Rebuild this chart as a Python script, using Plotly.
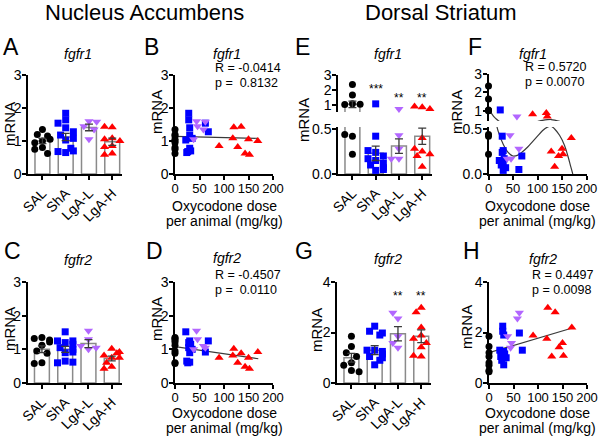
import plotly.graph_objects as go

W, H = 600, 436
FONT = "Liberation Sans, Arial, sans-serif"

GROUPS = ["SAL", "ShA", "LgA-L", "LgA-H"]
COLORS = ["#000000", "#0000ff", "#b266ff", "#ff0000"]
SYMBOLS = ["circle", "square", "triangle-down", "triangle-up"]
SIZES = [7, 7, 8, 8]

# oxycodone dose per animal (mg/kg); saline animals sit at 0
DOSE_SHA = [22, 24, 26, 28, 28, 30, 30, 30, 32, 35, 62, 68]
DOSE_LGAL = [38, 44, 46, 58, 62]
DOSE_LGAH = [90, 118, 120, 128, 135, 143, 150, 152, 169]

# Nucleus accumbens, fgfr1
NAC_FGFR1_SAL = [1.35, 1.2, 1.15, 1.05, 1.0, 0.95, 0.8, 0.75, 0.62]
NAC_FGFR1_SHA = [1.03, 0.65, 0.68, 1.84, 1.64, 1.4, 1.18, 0.78, 0.7, 1.08, 1.54, 1.28]
NAC_FGFR1_LGAL = [1.05, 1.6, 1.45, 1.35, 1.58]
NAC_FGFR1_LGAH = [0.85, 1.08, 1.42, 0.82, 1.43, 0.62, 1.05, 0.58, 1.0]
NAC_FGFR1_MEAN = [1.0, 1.12, 1.41, 0.98]
NAC_FGFR1_SEM = [0.08, 0.11, 0.1, 0.11]

# Nucleus accumbens, fgfr2
NAC_FGFR2_SAL = [1.35, 1.32, 1.28, 1.22, 1.12, 0.95, 0.88, 0.6, 0.58]
NAC_FGFR2_SHA = [1.52, 0.65, 0.6, 1.2, 1.05, 1.25, 0.9, 0.62, 1.15, 1.0, 0.92, 1.25]
NAC_FGFR2_LGAL = [1.0, 1.55, 1.3, 1.1, 1.05]
NAC_FGFR2_LGAH = [0.75, 0.82, 1.02, 0.6, 0.88, 0.48, 0.75, 0.42, 0.92]
NAC_FGFR2_MEAN = [1.0, 1.0, 1.17, 0.73]
NAC_FGFR2_SEM = [0.1, 0.09, 0.12, 0.07]

# Dorsal striatum, fgfr1
DS_FGFR1_SAL = [2.35, 1.65, 1.05, 1.0, 1.02, 0.42, 0.44, 0.22]
DS_FGFR1_SHA = [0.15, 1.05, 0.1, 0.42, 0.24, 0.26, 0.12, 0.04, 0.17, 0.07, 0.05, 0.2]
DS_FGFR1_LGAL = [0.17, 0.43, 0.17, 0.7, 0.28]
DS_FGFR1_LGAH = [0.82, 0.88, 0.7, 0.25, 0.08, 0.2, 0.28, 0.22, 0.4]
DS_FGFR1_MEAN = [1.02, 0.23, 0.31, 0.42]
DS_FGFR1_SEM = [0.22, 0.08, 0.08, 0.09]
DS_FGFR1_STARS = ["", "***", "**", "**"]
DS_FGFR1_STAR_Y = [None, 2.05, 1.45, 1.45]

# Dorsal striatum, fgfr2
DS_FGFR2_SAL = [1.85, 1.45, 1.2, 1.05, 0.8, 0.7, 0.5, 0.45]
DS_FGFR2_SHA = [1.3, 1.05, 0.9, 2.25, 2.05, 1.9, 1.25, 0.72, 1.15, 1.0, 1.98, 1.3]
DS_FGFR2_LGAL = [1.85, 1.4, 1.58, 2.55, 2.78]
DS_FGFR2_LGAH = [1.88, 1.75, 2.98, 1.05, 2.8, 1.42, 1.58, 1.08, 2.2]
DS_FGFR2_MEAN = [1.0, 1.3, 1.95, 1.85]
DS_FGFR2_SEM = [0.17, 0.18, 0.28, 0.25]
DS_FGFR2_STARS = ["", "", "**", "**"]
DS_FGFR2_STAR_Y = [None, None, 3.45, 3.45]

# fitted lines
FIT_DOSE = [0, 170]
FIT_NAC_FGFR1 = [1.14, 1.08]
FIT_NAC_FGFR2 = [1.08, 0.72]
FIT_DS_FGFR2 = [1.2, 2.18]
CURVE_DOSE = [0, 5, 10, 15, 20, 30, 40, 50, 60, 70, 80, 90, 100, 110, 120, 128,
              135, 145, 155, 162, 168, 172]
CURVE_DS_FGFR1 = [1.08, 0.9, 0.72, 0.58, 0.47, 0.33, 0.24, 0.2, 0.21, 0.25, 0.3,
                  0.36, 0.42, 0.48, 0.52, 0.53, 0.5, 0.43, 0.32, 0.2, 0.08, 0.0]

STATS = {
    "B": ("R = -0.0414", "p =\u00a0\u00a00.8132"),
    "D": ("R = -0.4507", "p =\u00a0\u00a00.0110"),
    "F": ("R = 0.5720", "p = 0.0070"),
    "H": ("R = 0.4497", "p = 0.0098"),
}

AX = dict(showline=True, linecolor="black", linewidth=1.5, ticks="outside",
          ticklen=4, tickwidth=1.5, tickcolor="black", showgrid=False,
          zeroline=False, fixedrange=True, automargin=False,
          tickfont=dict(family=FONT, size=14, color="black"))

layout = {}
data = []
annotations = []


def fx(a, b):
    return [a / W, b / W]


def fy(top, bottom):
    return [1 - bottom / H, 1 - top / H]


def axis(kind, n, dom, anchor, **kw):
    key = kind + ("" if n == 1 else str(n))
    layout[key] = dict(AX, domain=dom, anchor=anchor, **kw)


def yaxis(n, dom, anchor, **kw):
    axis("yaxis", n, dom, anchor, ticklabelstandoff=-2, **kw)


def text(x, y, s, size, xanchor="center", angle=0, **kw):
    annotations.append(dict(x=x / W, y=1 - y / H, xref="paper", yref="paper",
                            text=s, showarrow=False, xanchor=xanchor,
                            yanchor="middle", textangle=angle,
                            font=dict(family=FONT, size=size, color="black"), **kw))


OFFSETS = [0, -0.22, 0.22, -0.11, 0.11, -0.33, 0.33]


def swarm(vals, to_px, step=23.3, gap=6.5):
    placed = []
    for v in vals:
        py = to_px(v)
        for off in OFFSETS:
            if all((off - o) ** 2 * step ** 2 + (py - q) ** 2 >= gap ** 2 for o, q in placed):
                break
        placed.append((off, py))
    return [o for o, _ in placed]


def points(xs, ys, g, xa, ya):
    data.append(go.Scatter(
        x=xs, y=ys, xaxis=xa, yaxis=ya, mode="markers", cliponaxis=False,
        marker=dict(symbol=SYMBOLS[g], color=COLORS[g], size=SIZES[g], line=dict(width=0))))


def bars(means, xa, ya):
    data.append(go.Bar(x=list(range(4)), y=means, xaxis=xa, yaxis=ya, width=0.64,
                       marker=dict(color="white", line=dict(color="#8a8a8a", width=1.5))))


def errbars(idx, means, sems, xa, ya):
    if not idx:
        return
    data.append(go.Scatter(
        x=idx, y=[means[i] for i in idx], xaxis=xa, yaxis=ya, mode="markers",
        cliponaxis=False, marker=dict(size=2, opacity=0),
        error_y=dict(type="data", array=[sems[i] for i in idx], color="#3a3a3a",
                     thickness=1.3, width=4)))


def bar_xaxis(n, x0, anchor):
    axis("xaxis", n, fx(x0, x0 + 94), anchor, range=[-0.62, 3.42],
         tickvals=[0, 1, 2, 3], ticktext=GROUPS, tickangle=-45)


def dose_xaxis(n, x0, anchor):
    axis("xaxis", n, fx(x0, x0 + 98), anchor, range=[0, 200],
         tickvals=[0, 50, 100, 150, 200], tickangle=0, ticklabelstandoff=-2,
         tickfont=dict(family=FONT, size=13, color="black"))


def bar_panel(n_x, n_y, x0, top, bottom, ymax, dtick, groups, means, sems,
              stars=None, star_y=None):
    xa, ya = "x" + str(n_x), "y" + str(n_y)
    bar_xaxis(n_x, x0, ya)
    yaxis(n_y, fy(top, bottom), xa, range=[0, ymax], dtick=dtick)
    bars(means, xa, ya)
    ppu = (bottom - top) / ymax
    for g, vals in enumerate(groups):
        offs = swarm(vals, lambda v: bottom - v * ppu)
        points([g + o for o in offs], vals, g, xa, ya)
    errbars([0, 1, 2, 3], means, sems, xa, ya)
    if stars:
        for g, s in enumerate(stars):
            if s:
                annotations.append(dict(x=g, y=star_y[g], xref=xa, yref=ya, text=s,
                                        showarrow=False, font=dict(family=FONT, size=12)))


def dose_panel(n_x, n_y, x0, top, bottom, ymax, dtick, groups, fit):
    xa, ya = "x" + str(n_x), "y" + str(n_y)
    dose_xaxis(n_x, x0, ya)
    yaxis(n_y, fy(top, bottom), xa, range=[0, ymax], dtick=dtick)
    doses = [[0] * len(groups[0]), DOSE_SHA, DOSE_LGAL, DOSE_LGAH]
    data.append(go.Scatter(x=FIT_DOSE, y=fit, xaxis=xa, yaxis=ya, mode="lines",
                           line=dict(color="#3a3a3a", width=1.2)))
    for g in [1, 2, 3, 0]:
        points(doses[g], groups[g], g, xa, ya)


bar_panel(1, 1, 28, 75, 174, 3, 1,
          [NAC_FGFR1_SAL, NAC_FGFR1_SHA, NAC_FGFR1_LGAL, NAC_FGFR1_LGAH],
          NAC_FGFR1_MEAN, NAC_FGFR1_SEM)
dose_panel(2, 2, 175, 75, 174, 3, 1,
           [NAC_FGFR1_SAL, NAC_FGFR1_SHA, NAC_FGFR1_LGAL, NAC_FGFR1_LGAH], FIT_NAC_FGFR1)
bar_panel(5, 7, 27.5, 282, 383, 3, 1,
          [NAC_FGFR2_SAL, NAC_FGFR2_SHA, NAC_FGFR2_LGAL, NAC_FGFR2_LGAH],
          NAC_FGFR2_MEAN, NAC_FGFR2_SEM)
dose_panel(6, 8, 175, 282, 383, 3, 1,
           [NAC_FGFR2_SAL, NAC_FGFR2_SHA, NAC_FGFR2_LGAL, NAC_FGFR2_LGAH], FIT_NAC_FGFR2)
bar_panel(7, 9, 337, 282, 383, 4, 2,
          [DS_FGFR2_SAL, DS_FGFR2_SHA, DS_FGFR2_LGAL, DS_FGFR2_LGAH],
          DS_FGFR2_MEAN, DS_FGFR2_SEM, DS_FGFR2_STARS, DS_FGFR2_STAR_Y)
dose_panel(8, 10, 489, 282, 383, 4, 2,
           [DS_FGFR2_SAL, DS_FGFR2_SHA, DS_FGFR2_LGAL, DS_FGFR2_LGAH], FIT_DS_FGFR2)

# broken-axis panels (E, F): lower segment 0-0.5, upper segment 0.5-3
LOW_MAX = 0.522
DS1 = [DS_FGFR1_SAL, DS_FGFR1_SHA, DS_FGFR1_LGAL, DS_FGFR1_LGAH]

bar_xaxis(3, 338, "y3")
yaxis(3, fy(127, 174), "x3", range=[0, LOW_MAX], tickvals=[0, 0.5],
      ticktext=["0.0", "0.5"])
yaxis(4, fy(75, 112), "x3", range=[0.5, 3], tickvals=[1, 2, 3])


def e_px(v):
    return 174 - v * 90 if v <= LOW_MAX else 112 - (v - 0.5) * 14.8


for ya in ["y3", "y4"]:
    bars(DS_FGFR1_MEAN, "x3", ya)
for g, vals in enumerate(DS1):
    offs = swarm(vals, e_px)
    lo = [(g + o, v) for o, v in zip(offs, vals) if v <= LOW_MAX]
    hi = [(g + o, v) for o, v in zip(offs, vals) if v > LOW_MAX]
    if lo:
        points([p[0] for p in lo], [p[1] for p in lo], g, "x3", "y3")
    if hi:
        points([p[0] for p in hi], [p[1] for p in hi], g, "x3", "y4")
errbars([i for i in range(4) if DS_FGFR1_MEAN[i] <= LOW_MAX], DS_FGFR1_MEAN, DS_FGFR1_SEM, "x3", "y3")
errbars([i for i in range(4) if DS_FGFR1_MEAN[i] > LOW_MAX], DS_FGFR1_MEAN, DS_FGFR1_SEM, "x3", "y4")
for g, s in enumerate(DS_FGFR1_STARS):
    if s:
        annotations.append(dict(x=g, y=DS_FGFR1_STAR_Y[g], xref="x3", yref="y4", text=s,
                                showarrow=False, font=dict(family=FONT, size=12)))

dose_xaxis(4, 488.5, "y5")
yaxis(5, fy(127, 174), "x4", range=[0, LOW_MAX], tickvals=[0, 0.5],
      ticktext=["0.0", "0.5"])
yaxis(6, fy(74, 121), "x4", range=[0.45, 3], tickvals=[1, 2, 3])
doses = [[0] * len(DS_FGFR1_SAL), DOSE_SHA, DOSE_LGAL, DOSE_LGAH]
for ya in ["y5", "y6"]:
    data.append(go.Scatter(x=CURVE_DOSE, y=CURVE_DS_FGFR1, xaxis="x4", yaxis=ya,
                           mode="lines", cliponaxis=True,
                           line=dict(color="#3a3a3a", width=1.2, shape="spline")))
for g in [1, 2, 3, 0]:
    lo = [(d, v) for d, v in zip(doses[g], DS1[g]) if v <= LOW_MAX]
    hi = [(d, v) for d, v in zip(doses[g], DS1[g]) if v > LOW_MAX]
    if lo:
        points([p[0] for p in lo], [p[1] for p in lo], g, "x4", "y5")
    if hi:
        points([p[0] for p in hi], [p[1] for p in hi], g, "x4", "y6")

# text
text(144, 13, "Nucleus Accumbens", 22)
text(441, 13, "Dorsal Striatum", 22)

for s, x, y in [("A", 1, 47), ("B", 142, 47), ("E", 293, 47), ("F", 466, 47),
                ("C", 2, 251), ("D", 144, 251), ("G", 293, 251), ("H", 461, 251)]:
    text(x, y, s, 23, xanchor="left")

for s, x, y in [("fgfr1", 78, 54), ("fgfr1", 227, 54), ("fgfr1", 388, 54), ("fgfr1", 533, 54),
                ("fgfr2", 78, 260), ("fgfr2", 227, 258), ("fgfr2", 388, 259), ("fgfr2", 543, 259)]:
    text(x, y, "<i>%s</i>" % s, 14)

for x, y in [(9, 124), (156, 112), (303, 120), (456, 112),
             (9, 329), (156, 319), (316, 330), (466, 327)]:
    text(x, y, "mRNA", 15, angle=-90)

for x, y in [(224, 206), (224, 413), (537, 206), (537, 413)]:
    text(x, y, "Oxycodone dose", 14)
    text(x, y + 15, "per animal (mg/kg)", 14)

for key, x, y in [("B", 213, 68), ("D", 213, 275), ("F", 523, 67), ("H", 530, 275)]:
    r, p = STATS[key]
    text(x, y, r, 12.5, xanchor="left")
    text(x, y + 15, p, 12.5, xanchor="left")

layout.update(width=W, height=H, margin=dict(l=0, r=0, t=0, b=0, autoexpand=False),
              paper_bgcolor="white", plot_bgcolor="white", showlegend=False,
              barmode="overlay", annotations=annotations,
              font=dict(family=FONT, color="black"))

fig = go.Figure(data=data, layout=layout)
fig.write_html("out.html", config={"displayModeBar": False},
               post_script="document.body.style.margin='0';")
